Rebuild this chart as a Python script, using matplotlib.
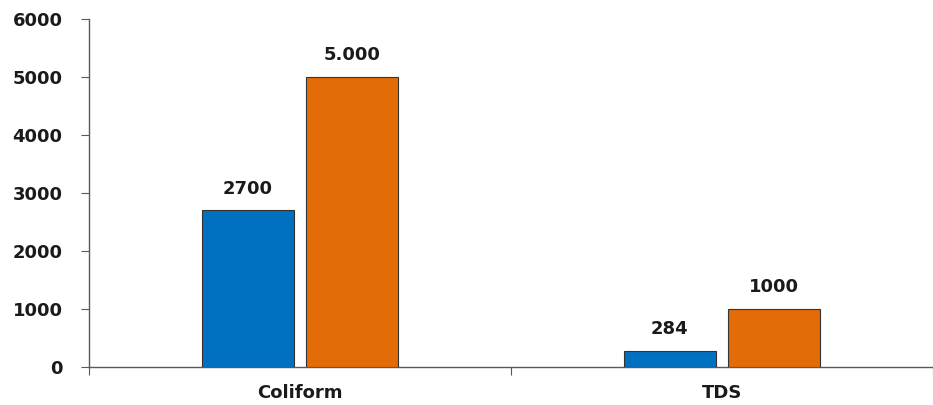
import matplotlib
matplotlib.use("Agg")
import matplotlib.pyplot as plt
import numpy as np

plt.rcParams.update({
    "font.family": "DejaVu Sans",
    "font.weight": "bold",
})

categories = ["Coliform", "TDS"]
measured = [2700, 284]
standard = [5000, 1000]
measured_labels = ["2700", "284"]
standard_labels = ["5.000", "1000"]

C_BLUE = "#0070C0"
C_ORANGE = "#E36C09"
C_AXIS = "#595959"
FS = 13

fig = plt.figure(figsize=(9.33, 4.05), dpi=100)
ax = fig.add_axes([89 / 933, 1 - 367 / 405, (933 - 89) / 933, (367 - 19) / 405])

x = np.arange(len(categories))
w = 0.218
off = 0.124
b1 = ax.bar(x - off, measured, w, color=C_BLUE, edgecolor="#333333", linewidth=0.8, zorder=3)
b2 = ax.bar(x + off, standard, w, color=C_ORANGE, edgecolor="#333333", linewidth=0.8, zorder=3)

for bars, labels in ((b1, measured_labels), (b2, standard_labels)):
    for r, lab in zip(bars, labels):
        ax.annotate(lab, (r.get_x() + r.get_width() / 2, r.get_height()),
                    xytext=(0, 9), textcoords="offset points",
                    ha="center", va="bottom", fontsize=FS, fontweight="bold",
                    color="#1a1a1a")

ax.set_ylim(0, 6000)
ax.set_yticks(np.arange(0, 6001, 1000))
ax.set_xlim(-0.5, -0.5 + (933 - 89) / 427)
ax.set_xticks([-0.5, 0.5, 1.5])
ax.set_xticklabels([])
ax.set_xticks(x, minor=True)
ax.set_xticklabels(categories, minor=True)
ax.tick_params(axis="x", which="minor", length=0, pad=12, labelsize=FS, labelcolor="#1a1a1a")
ax.tick_params(axis="x", which="major", length=6, color=C_AXIS, direction="out")
ax.tick_params(axis="y", length=6, color=C_AXIS, direction="out", pad=13,
               labelsize=FS, labelcolor="#1a1a1a")

for s in ("top", "right"):
    ax.spines[s].set_visible(False)
for s in ("left", "bottom"):
    ax.spines[s].set_color(C_AXIS)
    ax.spines[s].set_linewidth(1.0)

fig.savefig("out.png", dpi=100, facecolor="white")
